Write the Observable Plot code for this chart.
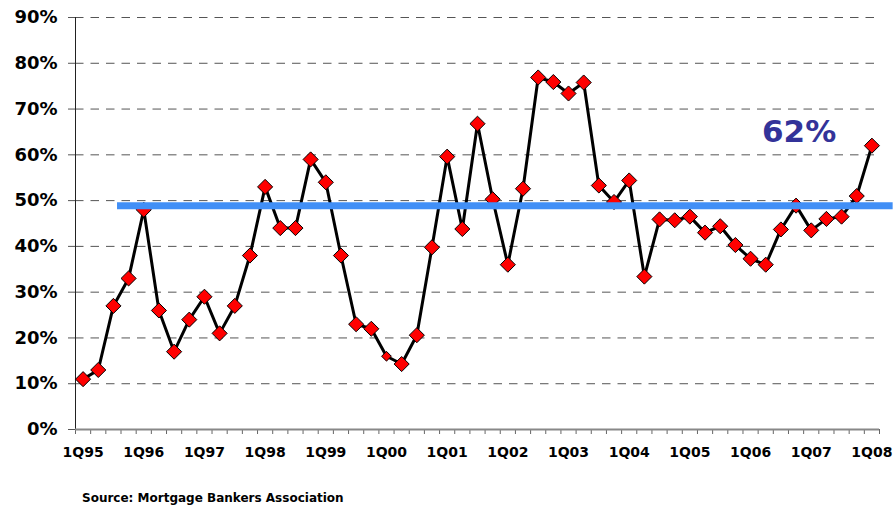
<!DOCTYPE html>
<html><head><meta charset="utf-8">
<script src="https://cdn.jsdelivr.net/npm/d3@7"></script>
<script src="https://cdn.jsdelivr.net/npm/@observablehq/plot@0.6"></script>
<style>
body{margin:0;background:#fff;font-family:"DejaVu Sans",sans-serif}
#source{font:bold 12px "DejaVu Sans",sans-serif;line-height:14px;color:#000;margin-left:82px;margin-top:21px}
</style></head><body><div id="chart"></div><div id="source">Source: Mortgage Bankers Association</div>
<script>
const years = ["95","96","97","98","99","00","01","02","03","04","05","06","07","08"];
const quarters = years.flatMap(y => ["1Q","2Q","3Q","4Q"].map(q => q + y)).slice(0, 53);
const values = [11,13,27,33, 48,26,17,24, 29,21,27,38, 53,44,44,59, 54,38,23,22,
  16,14.3,20.6,39.8, 59.6,43.8,66.8,50.3, 36,52.6,76.9,75.9, 73.4,75.8,53.3,49.7,
  54.4,33.4,45.9,45.7, 46.5,43,44.4,40.3, 37.3,36,43.7,48.9, 43.5,46,46.5,51, 62];
const yTicks = [0,10,20,30,40,50,60,70,80,90];
const average = 48.9;
const averageSpan = {from: 2.27, to: 53.4};
const callout = {label: "62%", x: 47.2, y: 65};
const smallMarker = "1Q00"; // drawn with a smaller diamond in the original

const data = values.map((v, i) => ({i, v, q: quarters[i]}));
const boundaries = d3.range(-0.5, quarters.length, 1);
const labelTicks = d3.range(0, quarters.length, 4);

const chart = Plot.plot({
  width: 896, height: 470,
  marginLeft: 75, marginRight: 17, marginTop: 17, marginBottom: 41,
  style: {fontFamily: "DejaVu Sans", background: "white", overflow: "visible"},
  x: {type: "linear", domain: [-0.5, quarters.length - 0.5], axis: null},
  y: {domain: [0, 90], axis: null},
  marks: [
    Plot.ruleY(yTicks.filter(d => d > 0), {stroke: "#555", strokeDasharray: "8.5,7", strokeWidth: 1}),
    Plot.ruleX([-0.5], {stroke: "#222", strokeWidth: 1}),
    Plot.axisY({ticks: yTicks, tickFormat: d => d + "%", tickSize: 7, tickPadding: 11,
      fontSize: 18, fontWeight: "bold", fill: "#000", stroke: "#555"}),
    Plot.axisX({ticks: boundaries, tickFormat: () => "", tickSize: 5, stroke: "#666"}),
    Plot.ruleY([0], {stroke: "#888", strokeWidth: 2}),
    Plot.axisX({ticks: labelTicks, tickFormat: i => quarters[i], tickSize: 0, tickPadding: 18,
      fontSize: 14, fontWeight: "bold", fill: "#000"}),
    Plot.line(data, {x: "i", y: "v", stroke: "#000", strokeWidth: 3}),
    Plot.dot(data.filter(d => d.q !== smallMarker), {x: "i", y: "v", symbol: "diamond2", r: 6.8,
      fill: "#ff0000", stroke: "#000", strokeWidth: 1}),
    Plot.dot(data.filter(d => d.q === smallMarker), {x: "i", y: "v", symbol: "diamond2", r: 4.4,
      fill: "#ff0000", stroke: "#000", strokeWidth: 1}),
    Plot.ruleY([{y: average, x1: averageSpan.from, x2: averageSpan.to}],
      {y: "y", x1: "x1", x2: "x2", stroke: "#418ff6", strokeWidth: 7}),
    Plot.text([callout], {x: "x", y: "y", text: "label", fontSize: 31, fontWeight: "bold", fill: "#333399"})
  ]
});
document.getElementById("chart").append(chart);
</script>
</body></html>
